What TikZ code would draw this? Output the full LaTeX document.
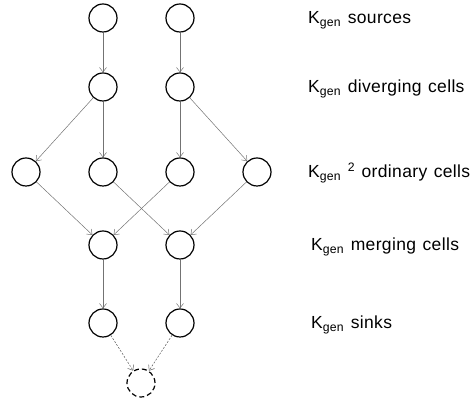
\documentclass[tikz,border=0pt]{standalone}
\usepackage{fontspec}
\setmainfont{Liberation Sans}[LetterSpace=2]
\usetikzlibrary{arrows.meta,positioning}
\newcommand\tagfont{\fontsize{17.5}{19}\selectfont\spaceskip=6.5pt plus 1pt\relax}

\begin{document}
\begin{tikzpicture}[
    x=1pt, y=1pt,
    cell/.style={circle, draw=black, line width=1.2pt, minimum size=28pt, inner sep=0pt},
    ghost/.style={cell, dash pattern=on 5pt off 3pt},
    link/.style={-{Straight Barb[length=4.5pt,width=7pt]}, draw=black!55, line width=0.5pt},
    ghostlink/.style={link, draw=black!65, dash pattern=on 2pt off 1.5pt},
    tag/.style={anchor=base west, inner sep=0pt, font=\tagfont}
]
\useasboundingbox (0,0) rectangle (472,403);

% Cells, row by row
\node[cell] (s1) at (103,385) {};
\node[cell] (s2) at (180,385) {};
\node[cell] (d1) at (103,316) {};
\node[cell] (d2) at (180,316) {};
\node[cell] (o1) at (26,231) {};
\node[cell] (o2) at (103,231) {};
\node[cell] (o3) at (180,231) {};
\node[cell] (o4) at (257,231) {};
\node[cell] (m1) at (103,158) {};
\node[cell] (m2) at (180,158) {};
\node[cell] (k1) at (103,80) {};
\node[cell] (k2) at (180,80) {};
\node[ghost] (z) at (141,20) {};

% Labels
\node[tag] (ls) at (308,379) {K\textsubscript{gen} sources};
\node[tag] (ld) at (308,310) {K\textsubscript{gen} diverging cells};
\node[tag] (lo) at (308,225) {K\textsubscript{gen} \textsuperscript{2} ordinary cells};
\node[tag] (lm) at (311,152) {K\textsubscript{gen} merging cells};
\node[tag] (lk) at (311,74) {K\textsubscript{gen} sinks};

% Connections
\draw[link] (s1) -- (d1);
\draw[link] (s2) -- (d2);
\draw[link] (d1) -- (o1);
\draw[link] (d1) -- (o2);
\draw[link] (d2) -- (o3);
\draw[link] (d2) -- (o4);
\draw[link] (o1) -- (m1);
\draw[link] (o3) -- (m1);
\draw[link] (o2) -- (m2);
\draw[link] (o4) -- (m2);
\draw[link] (m1) -- (k1);
\draw[link] (m2) -- (k2);
\draw[ghostlink] (k1) -- (z);
\draw[ghostlink] (k2) -- (z);

\end{tikzpicture}
\end{document}
